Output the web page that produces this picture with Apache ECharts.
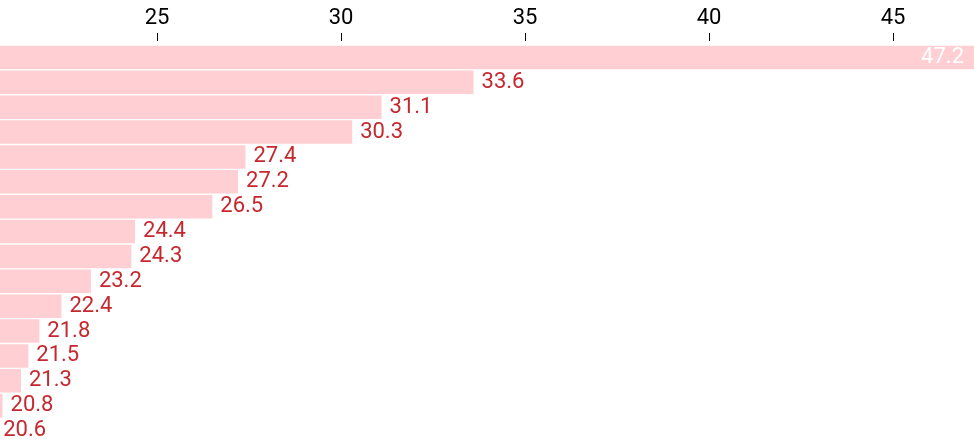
<!DOCTYPE html>
<html>
<head>
<meta charset="utf-8">
<style>
  html, body { margin: 0; padding: 0; background: #fff; }
  #chart { width: 974px; height: 446px; }
</style>
<script src="https://cdn.jsdelivr.net/npm/echarts@6/dist/echarts.min.js"></script>
</head>
<body>
<div id="chart"></div>
<script>
// categories have no visible names in the chart, so just ranks
var categories = ['1', '2', '3', '4', '5', '6', '7', '8', '9', '10', '11', '12', '13', '14', '15', '16'];
var values = [47.2, 33.6, 31.1, 30.3, 27.4, 27.2, 26.5, 24.4, 24.3, 23.2, 22.4, 21.8, 21.5, 21.3, 20.8, 20.6];
var tickValues = [25, 30, 35, 40, 45];

var barColor = '#ffcfd3';
var labelRed = '#c5282f';

var myChart = echarts.init(document.getElementById('chart'));

// first bar gets its label inside, in white
var barData = values.map(function (v, i) {
  if (i === 0) {
    return {
      value: v,
      label: { position: 'insideRight', color: '#fff', distance: 10 }
    };
  }
  return v;
});

var option = {
  animation: false,
  grid: { left: 0, right: 0, top: 45, bottom: 3, containLabel: false },
  xAxis: {
    type: 'value',
    position: 'top',
    min: 20.73,
    max: 47.2,
    offset: 4,
    splitLine: { show: false },
    axisLine: { show: false },
    axisTick: {
      show: true,
      length: 8,
      lineStyle: { color: '#000', width: 1 },
      customValues: tickValues
    },
    axisLabel: {
      show: true,
      margin: 12,
      color: '#000',
      fontSize: 22,
      fontFamily: 'Roboto',
      customValues: tickValues
    }
  },
  yAxis: {
    type: 'category',
    data: categories,
    inverse: true,
    show: false
  },
  series: [{
    type: 'bar',
    data: barData,
    // the smallest value is below the axis min; keep it (and its label) drawn
    clip: false,
    barCategoryGap: '6%',
    itemStyle: { color: barColor },
    label: {
      show: true,
      position: 'right',
      distance: 8,
      color: labelRed,
      fontSize: 22,
      fontFamily: 'Roboto'
    }
  }]
};

myChart.setOption(option);
</script>
</body>
</html>
